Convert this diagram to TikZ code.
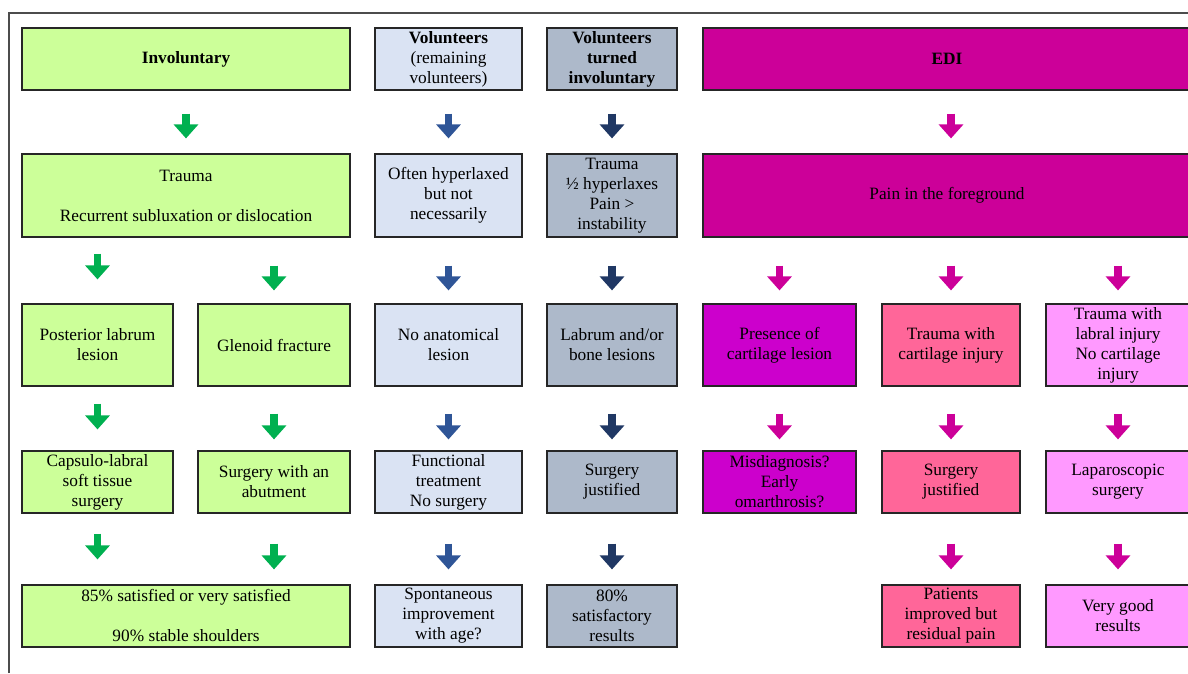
\documentclass[tikz,border=0pt]{standalone}
\usepackage{fontspec}
\setmainfont{Liberation Serif}
\usepackage{tikz}
\usetikzlibrary{arrows.meta}

\definecolor{invfill}{HTML}{CCFF99}
\definecolor{invarrow}{HTML}{00B050}
\definecolor{volfill}{HTML}{DAE3F3}
\definecolor{volarrow}{HTML}{2F5597}
\definecolor{turnfill}{HTML}{ADB9CA}
\definecolor{turnarrow}{HTML}{203864}
\definecolor{edifill}{HTML}{CC0099}
\definecolor{presfill}{HTML}{CC00CC}
\definecolor{cartfill}{HTML}{FF6699}
\definecolor{labrfill}{HTML}{FF99FF}

\begin{document}
\begin{tikzpicture}[x=1pt, y=-1pt,
    box/.style={draw=black!85, line width=1.2pt, inner sep=0pt, align=center,
        font=\fontsize{17.3}{20}\selectfont},
    gbox/.style={box, fill=invfill},
    lbox/.style={box, fill=volfill},
    sbox/.style={box, fill=turnfill},
    ebox/.style={box, fill=edifill},
    pbox/.style={box, fill=presfill},
    cbox/.style={box, fill=cartfill},
    rbox/.style={box, fill=labrfill},
    flow/.style={line width=7.5pt, -{Triangle[width=24pt, length=14pt]}},
    garr/.style={flow, invarrow},
    barr/.style={flow, volarrow},
    narr/.style={flow, turnarrow},
    marr/.style={flow, edifill},
    row1/.style={shorten <=23pt, shorten >=15pt},
    row2/.style={shorten <=28pt, shorten >=13pt},
    row2l/.style={shorten <=16pt, shorten >=24pt},
    row3/.style={shorten <=27pt, shorten >=11pt},
    row3l/.style={shorten <=17pt, shorten >=21pt},
    row4/.style={shorten <=30pt, shorten >=15pt},
    row4l/.style={shorten <=20pt, shorten >=25pt}]

\useasboundingbox (0,0) rectangle (1188,673);

% Frame
\draw[black!70, line width=1.5pt] (9,673) -- (9,13) -- (1188,13);

% =========================
% Row 1: groups
% =========================
\node[gbox, minimum width=328, minimum height=62] (inv) at (186,59)
    {\textbf{Involuntary}};
\node[lbox, minimum width=147, minimum height=62] (vol) at (448.5,59)
    {\textbf{Volunteers}\\(remaining\\volunteers)};
\node[sbox, minimum width=130, minimum height=62] (turned) at (612,59)
    {\textbf{Volunteers}\\\textbf{turned}\\\textbf{involuntary}};
\node[ebox, minimum width=488, minimum height=62] (edi) at (947,59)
    {\textbf{EDI}};

% =========================
% Row 2
% =========================
\node[gbox, minimum width=328, minimum height=83] (trauma) at (186,195.5)
    {Trauma\\[20pt]Recurrent subluxation or dislocation};
\node[lbox, minimum width=147, minimum height=83] (often) at (448.5,195.5)
    {Often hyperlaxed\\but not\\necessarily};
\node[sbox, minimum width=130, minimum height=83] (trhyp) at (612,195.5)
    {Trauma\\½ hyperlaxes\\Pain >\\instability};
\node[ebox, minimum width=488, minimum height=83] (pain) at (947,195.5)
    {Pain in the foreground};

% =========================
% Row 3
% =========================
\node[gbox, minimum width=151, minimum height=82] (post) at (97.5,345)
    {Posterior labrum\\lesion};
\node[gbox, minimum width=152, minimum height=82] (glen) at (274,345)
    {Glenoid fracture};
\node[lbox, minimum width=147, minimum height=82] (noana) at (448.5,345)
    {No anatomical\\lesion};
\node[sbox, minimum width=130, minimum height=82] (labr) at (612,345)
    {Labrum and/or\\bone lesions};
\node[pbox, minimum width=153, minimum height=82] (pres) at (779.5,345)
    {Presence of\\cartilage lesion};
\node[cbox, minimum width=138, minimum height=82] (trwith) at (951,345)
    {Trauma with\\cartilage injury};
\node[rbox, minimum width=144, minimum height=82] (labral) at (1118,345)
    {Trauma with\\labral injury\\No cartilage\\injury};

% =========================
% Row 4
% =========================
\node[gbox, minimum width=151, minimum height=62] (caps) at (97.5,482)
    {Capsulo-labral\\soft tissue\\surgery};
\node[gbox, minimum width=152, minimum height=62] (abut) at (274,482)
    {Surgery with an\\abutment};
\node[lbox, minimum width=147, minimum height=62] (func) at (448.5,482)
    {Functional\\treatment\\No surgery};
\node[sbox, minimum width=130, minimum height=62] (surg) at (612,482)
    {Surgery\\justified};
\node[pbox, minimum width=153, minimum height=62] (misd) at (779.5,482)
    {Misdiagnosis?\\Early\\omarthrosis?};
\node[cbox, minimum width=138, minimum height=62] (surgj) at (951,482)
    {Surgery\\justified};
\node[rbox, minimum width=144, minimum height=62] (lapar) at (1118,482)
    {Laparoscopic\\surgery};

% =========================
% Row 5: results
% =========================
\node[gbox, minimum width=328, minimum height=62] (res85) at (186,616)
    {85\% satisfied or very satisfied\\[20pt]90\% stable shoulders};
\node[lbox, minimum width=147, minimum height=62] (spont) at (448.5,616)
    {Spontaneous\\improvement\\with age?};
\node[sbox, minimum width=130, minimum height=62] (res80) at (612,616)
    {80\%\\satisfactory\\results};
\node[cbox, minimum width=138, minimum height=62] (patients) at (951,616)
    {Patients\\improved but\\residual pain};
\node[rbox, minimum width=144, minimum height=62] (vgood) at (1118,616)
    {Very good\\results};

% =========================
% Arrows
% =========================
\draw[garr, row1] (inv) -- (trauma);
\draw[barr, row1] (vol) -- (often);
\draw[narr, row1] (turned) -- (trhyp);
\draw[marr, row1] (edi.south -| trwith) -- (pain.north -| trwith);

\draw[garr, row2l] (trauma.south -| post) -- (post);
\draw[garr, row2] (trauma.south -| glen) -- (glen);
\draw[barr, row2] (often) -- (noana);
\draw[narr, row2] (trhyp) -- (labr);
\draw[marr, row2] (pain.south -| pres) -- (pres);
\draw[marr, row2] (pain.south -| trwith) -- (trwith);
\draw[marr, row2] (pain.south -| labral) -- (labral);

\draw[garr, row3l] (post) -- (caps);
\draw[garr, row3] (glen) -- (abut);
\draw[barr, row3] (noana) -- (func);
\draw[narr, row3] (labr) -- (surg);
\draw[marr, row3] (pres) -- (misd);
\draw[marr, row3] (trwith) -- (surgj);
\draw[marr, row3] (labral) -- (lapar);

\draw[garr, row4l] (caps) -- (res85.north -| caps);
\draw[garr, row4] (abut) -- (res85.north -| abut);
\draw[barr, row4] (func) -- (spont);
\draw[narr, row4] (surg) -- (res80);
\draw[marr, row4] (surgj) -- (patients);
\draw[marr, row4] (lapar) -- (vgood);

\end{tikzpicture}
\end{document}
